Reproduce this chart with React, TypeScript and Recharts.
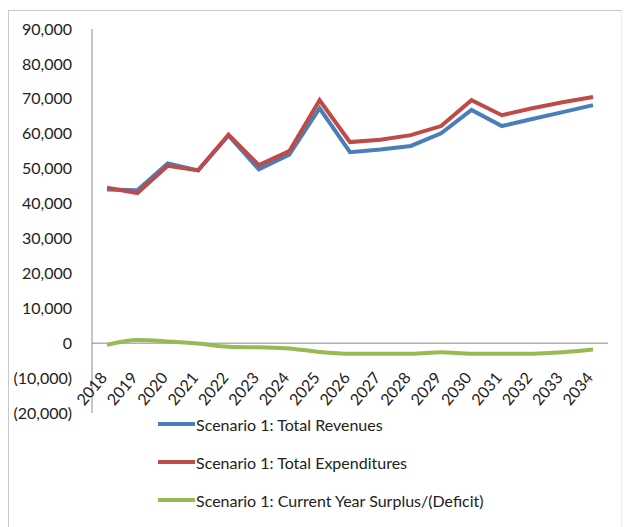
import React from "react";
import {
  LineChart,
  Line,
  XAxis,
  YAxis,
  ReferenceLine,
  Legend,
} from "recharts";

const years = [
  "2018", "2019", "2020", "2021", "2022", "2023", "2024", "2025", "2026",
  "2027", "2028", "2029", "2030", "2031", "2032", "2033", "2034",
];
const revenues = [
  44000, 43800, 51500, 49500, 59500, 49800, 54000, 67300, 54700, 55500,
  56500, 60100, 66800, 62200, 64200, 66200, 68200,
];
const expenditures = [
  44500, 43000, 50800, 49500, 59700, 51000, 55000, 69600, 57600, 58300,
  59600, 62200, 69600, 65300, 67300, 69000, 70500,
];
const surplus = [
  -500, 900, 500, -100, -1000, -1200, -1500, -2500, -3000, -3000, -3000,
  -2600, -3000, -3000, -3000, -2600, -1800,
];
const yTicks = [
  -20000, -10000, 0, 10000, 20000, 30000, 40000, 50000, 60000, 70000, 80000,
  90000,
];

const series = [
  { key: "rev", name: "Scenario 1: Total Revenues", color: "#4a7ebb" },
  { key: "exp", name: "Scenario 1: Total Expenditures", color: "#be4b48" },
  { key: "sur", name: "Scenario 1: Current Year Surplus/(Deficit)", color: "#98b954" },
];

const data = years.map((y, i) => ({
  year: y,
  rev: revenues[i],
  exp: expenditures[i],
  sur: surplus[i],
}));

const W = 625;
const H = 527;
const margin = { top: 29, right: 17, bottom: 113, left: 20 };
const yMin = -20000;
const yMax = 90000;
const plotH = H - margin.top - margin.bottom - 1;
// x labels sit on the zero line, not at the bottom of the plot
const zeroShift = (plotH * (0 - yMin)) / (yMax - yMin);
const font = "Lato, 'Open Sans', sans-serif";

const fmt = (v: number) =>
  v < 0 ? `(${Math.abs(v).toLocaleString("en-US")})` : v.toLocaleString("en-US");

function YearTick(props: any) {
  const { x, y, payload } = props;
  const ax = x + 1;
  const ay = y - zeroShift + 27;
  return (
    <text
      x={ax}
      y={ay}
      textAnchor="end"
      fill="#222"
      fontSize={16}
      fontFamily={font}
      transform={`rotate(-50 ${ax} ${ay})`}
    >
      {payload.value}
    </text>
  );
}

function LegendBox() {
  return (
    <div style={{ fontFamily: font, fontSize: 16, color: "#222" }}>
      {series.map((s) => (
        <div
          key={s.key}
          style={{ display: "flex", alignItems: "center", height: 38 }}
        >
          <span
            style={{
              display: "inline-block",
              width: 37,
              height: 4,
              background: s.color,
              marginRight: 1,
            }}
          />
          {s.name}
        </div>
      ))}
    </div>
  );
}

export default function App() {
  return (
    <div
      style={{
        position: "absolute",
        left: 0,
        top: 0,
        width: W,
        height: H,
        background: "#fff",
      }}
    >
      <div
        style={{
          position: "absolute",
          left: 8,
          top: 10,
          width: 612,
          height: 530,
          borderLeft: "1px solid #c8c8c8",
          borderTop: "1px solid #c8c8c8",
          borderRight: "1px solid #ececec",
        }}
      />
      <LineChart width={W} height={H} data={data} margin={margin}>
        <XAxis
          dataKey="year"
          axisLine={false}
          tickLine={false}
          interval={0}
          height={1}
          padding={{ left: 15, right: 15 }}
          tick={<YearTick />}
        />
        <YAxis
          domain={[yMin, yMax]}
          ticks={yTicks}
          tickFormatter={fmt}
          width={72}
          axisLine={{ stroke: "#8c8c8c" }}
          tickLine={false}
          tickMargin={14}
          tick={{ fill: "#222", fontSize: 16, fontFamily: font }}
        />
        <ReferenceLine y={0} stroke="#8c8c8c" />
        {series.map((s) => (
          <Line
            key={s.key}
            dataKey={s.key}
            name={s.name}
            type={s.key === "sur" ? "monotone" : "linear"}
            stroke={s.color}
            strokeWidth={4}
            dot={false}
            isAnimationActive={false}
          />
        ))}
        <Legend
          layout="vertical"
          align="center"
          verticalAlign="middle"
          wrapperStyle={{ left: 158, top: 405, width: 400 }}
          content={() => <LegendBox />}
        />
      </LineChart>
    </div>
  );
}
